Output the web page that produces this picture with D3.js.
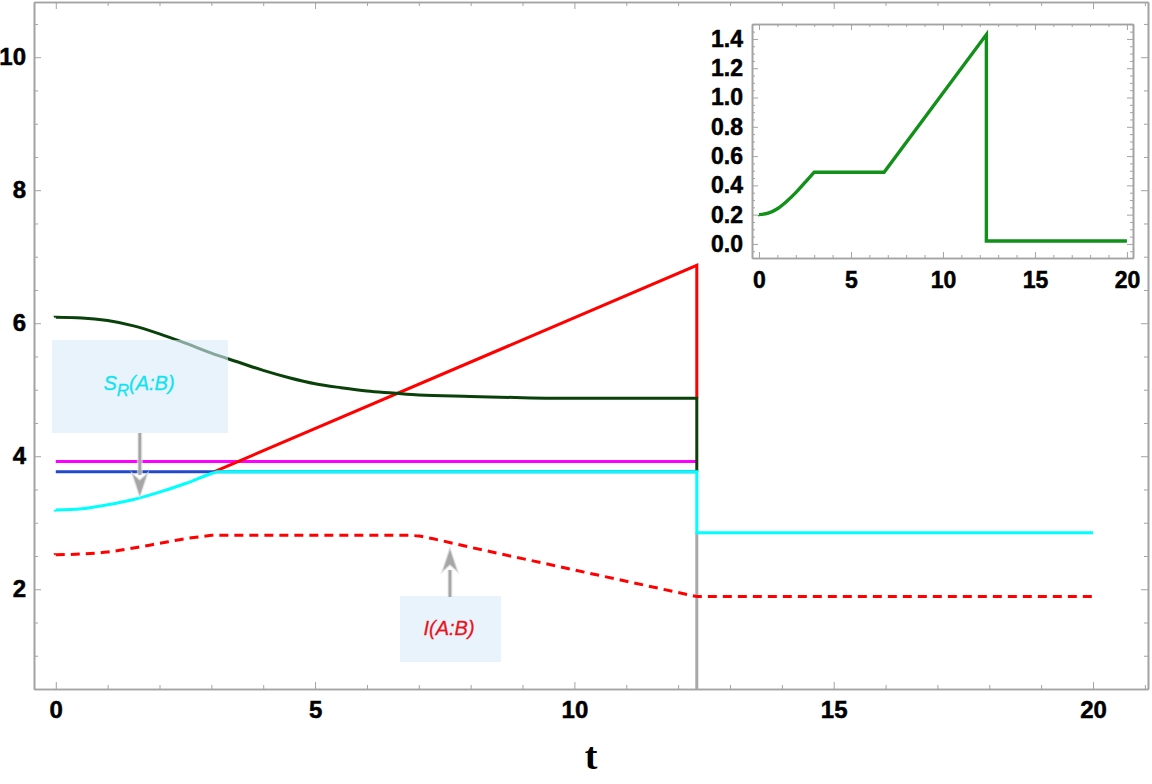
<!DOCTYPE html>
<html>
<head>
<meta charset="utf-8">
<script src="https://cdn.jsdelivr.net/npm/d3@7"></script>
<style>
  html, body { margin: 0; padding: 0; background: #fff; }
  svg { display: block; }
</style>
</head>
<body>
<svg id="chart" width="1152" height="784"></svg>
<script>
// ---------------- data ----------------
const xTicksMain = [0, 5, 10, 15, 20];
const yTicksMain = [2, 4, 6, 8, 10];
const xTicksInset = [0, 5, 10, 15, 20];
const yTicksInset = [0, 0.2, 0.4, 0.6, 0.8, 1.0, 1.2, 1.4];

// dark green curve
const greenT = [0, 0.5, 1, 1.5, 2, 2.5, 3, 3.5, 4, 4.5, 5, 5.5, 6, 6.5, 7, 8, 9, 10, 11, 12.36, 12.36];
const greenV = [6.09, 6.08, 6.04, 5.96, 5.84, 5.70, 5.55, 5.42, 5.29, 5.18, 5.09, 5.03, 4.98, 4.95, 4.92, 4.90, 4.88, 4.87, 4.87, 4.87, 3.77];

// magenta flat line
const magentaT = [0, 12.36];
const magentaV = [3.92, 3.92];

// blue flat line
const blueT = [0, 12.36];
const blueV = [3.765, 3.765];

// cyan S_R(A:B)
const cyanT = [0, 0.5, 1, 1.5, 2, 2.5, 3, 3.1, 12.36, 12.36, 20];
const cyanV = [3.19, 3.21, 3.27, 3.35, 3.46, 3.59, 3.74, 3.765, 3.765, 2.85, 2.85];

// red solid line
const redT = [3.05, 12.36, 12.36];
const redV = [3.765, 6.87, 4.87];

// red dashed I(A:B)
const dashT = [0, 0.5, 1, 1.5, 2, 2.5, 3, 6.8, 7.0, 7.2, 8, 9, 10, 11, 12.36, 20];
const dashV = [2.52, 2.53, 2.56, 2.62, 2.69, 2.76, 2.81, 2.81, 2.80, 2.77, 2.63, 2.46, 2.29, 2.12, 1.89, 1.89];

// gray vertical marker
const grayT = [12.36, 12.36];
const grayV = [0.5, 2.85];

// inset green curve
const insetT = [0, 0.5, 1, 1.5, 2, 2.5, 3, 6.8, 12.36, 12.36, 20];
const insetV = [0.20, 0.21, 0.24, 0.29, 0.35, 0.42, 0.49, 0.49, 1.43, 0.02, 0.02];

// annotations
const labelSR = { main: "S", sub: "R", rest: "(A:B)" };
const labelI = "I(A:B)";
const axisLabel = "t";

// ---------------- drawing ----------------
const svg = d3.select("#chart");
const frameColor = "#a3a3a3";
const labelFont = "'Liberation Sans', Arial, sans-serif";

const M = { left: 34, right: 1148, top: 2, bottom: 689 };
const x = d3.scaleLinear().domain([-0.42, 21.06]).range([M.left, M.right]);
const y = d3.scaleLinear().domain([0.5, 10.83]).range([M.bottom, M.top]);

function zip(ts, vs) { return ts.map((t, i) => [t, vs[i]]); }

// closely sampled runs (0 < dt <= 1) are smoothed; long or vertical segments stay straight
function smoothPath(pts, xs, ys) {
  const gen = d3.line().x(d => xs(d[0])).y(d => ys(d[1])).curve(d3.curveMonotoneX);
  let out = `M${xs(pts[0][0])},${ys(pts[0][1])}`;
  let run = [pts[0]];
  const flush = () => {
    if (run.length > 1) out += "L" + gen(run).slice(1);
  };
  for (let i = 1; i < pts.length; i++) {
    const dt = pts[i][0] - pts[i - 1][0];
    if (dt > 0 && dt <= 1.01) {
      run.push(pts[i]);
    } else {
      flush();
      out += `L${xs(pts[i][0])},${ys(pts[i][1])}`;
      run = [pts[i]];
    }
  }
  flush();
  return out;
}

function frameAxes(g, xs, ys, L, opt) {
  const xMinor = d3.range(Math.ceil(xs.domain()[0]), Math.floor(xs.domain()[1]) + 1, opt.xMinorStep)
    .filter(v => !opt.xTicks.some(t => Math.abs(t - v) < 1e-9));
  const yMinor = d3.range(Math.ceil(ys.domain()[0] / opt.yMinorStep) * opt.yMinorStep, ys.domain()[1], opt.yMinorStep)
    .filter(v => !opt.yTicks.some(t => Math.abs(t - v) < 1e-9));

  const mk = (axisFn, scale, vals, size, fmt, pad) =>
    axisFn(scale).tickValues(vals).tickSize(-size).tickSizeOuter(0).tickPadding(pad).tickFormat(fmt);
  const none = () => "";

  g.append("g").attr("transform", `translate(0,${L.bottom})`)
    .call(mk(d3.axisBottom, xs, opt.xTicks, opt.major, d3.format("d"), opt.xPad));
  g.append("g").attr("transform", `translate(0,${L.bottom})`)
    .call(mk(d3.axisBottom, xs, xMinor, opt.minor, none, 0));
  g.append("g").attr("transform", `translate(0,${L.top})`)
    .call(mk(d3.axisTop, xs, opt.xTicks, opt.major, none, 0));
  g.append("g").attr("transform", `translate(0,${L.top})`)
    .call(mk(d3.axisTop, xs, xMinor, opt.minor, none, 0));
  g.append("g").attr("transform", `translate(${L.left},0)`)
    .call(mk(d3.axisLeft, ys, opt.yTicks, opt.major, opt.yFmt, opt.yPad));
  g.append("g").attr("transform", `translate(${L.left},0)`)
    .call(mk(d3.axisLeft, ys, yMinor, opt.minor, none, 0));
  g.append("g").attr("transform", `translate(${L.right},0)`)
    .call(mk(d3.axisRight, ys, opt.yTicks, opt.major, none, 0));
  g.append("g").attr("transform", `translate(${L.right},0)`)
    .call(mk(d3.axisRight, ys, yMinor, opt.minor, none, 0));

  g.selectAll(".domain").attr("stroke", frameColor).attr("stroke-width", 1.6);
  g.selectAll(".tick line").attr("stroke", frameColor).attr("stroke-width", 1);
  g.selectAll(".tick text")
    .attr("font-family", labelFont).attr("font-weight", "bold")
    .attr("font-size", opt.fontSize).attr("fill", "#000")
    .attr("stroke", "#000").attr("stroke-width", 0.5);
}

// main frame
const gMain = svg.append("g");
frameAxes(gMain, x, y, M, {
  xTicks: xTicksMain, yTicks: yTicksMain, xMinorStep: 1, yMinorStep: 0.5,
  major: 7, minor: 4, xPad: 12, yPad: 8, fontSize: 24, yFmt: d3.format("d")
});

const series = [
  { t: grayT, v: grayV, color: "#a8a8a8", w: 3 },
  { t: magentaT, v: magentaV, color: "#ff00ff", w: 3 },
  { t: blueT, v: blueV, color: "#2349c9", w: 3 },
  { t: dashT, v: dashV, color: "#ff0000", w: 3, dash: "9,6" },
  { t: redT, v: redV, color: "#ff0000", w: 3 },
  { t: greenT, v: greenV, color: "#0a400a", w: 3 },
  { t: cyanT, v: cyanV, color: "#00ffff", w: 3 }
];
series.forEach(s => {
  gMain.append("path")
    .attr("d", smoothPath(zip(s.t, s.v), x, y)).attr("fill", "none")
    .attr("stroke", s.color).attr("stroke-width", s.w)
    .attr("stroke-linejoin", "miter")
    .attr("stroke-dasharray", s.dash || null);
});

// annotation arrows and boxes
function arrow(g, x1, y1, x2, y2) {
  const dir = Math.sign(y2 - y1);
  const headLen = 24, headW = 8;
  g.append("line").attr("x1", x1).attr("y1", y1).attr("x2", x2).attr("y2", y2 - dir * headLen + dir * 2)
    .attr("stroke", "#ececec").attr("stroke-width", 6).attr("opacity", 0.6);
  g.append("line").attr("x1", x1).attr("y1", y1).attr("x2", x2).attr("y2", y2 - dir * headLen + dir * 2)
    .attr("stroke", "#a6a6a6").attr("stroke-width", 3);
  g.append("path")
    .attr("d", `M${x2},${y2} L${x2 - headW},${y2 - dir * headLen} L${x2},${y2 - dir * (headLen - 7)} L${x2 + headW},${y2 - dir * headLen} Z`)
    .attr("fill", "#a6a6a6").attr("stroke", "#dcdcdc").attr("stroke-width", 1.5).attr("stroke-opacity", 0.7);
}

const ann = svg.append("g");
ann.append("rect").attr("x", 52).attr("y", 340).attr("width", 176).attr("height", 93)
  .attr("fill", "rgb(217,235,250)").attr("opacity", 0.6);
const t1 = ann.append("text").attr("x", 139).attr("y", 390)
  .attr("text-anchor", "middle").attr("font-family", labelFont)
  .attr("font-style", "italic").attr("font-size", 20).attr("fill", "#12e2f0")
  .attr("stroke", "#12e2f0").attr("stroke-width", 0.3);
t1.append("tspan").text(labelSR.main);
t1.append("tspan").attr("font-size", 17).attr("dy", 6).text(labelSR.sub);
t1.append("tspan").attr("dy", -6).text(labelSR.rest);
arrow(ann, x(1.62), 433, x(1.62), 497);

ann.append("rect").attr("x", 400).attr("y", 596).attr("width", 101).attr("height", 66)
  .attr("fill", "rgb(217,235,250)").attr("opacity", 0.6);
ann.append("text").attr("x", 449).attr("y", 635)
  .attr("text-anchor", "middle").attr("font-family", labelFont)
  .attr("font-style", "italic").attr("font-size", 20).attr("fill", "#e8141c")
  .attr("stroke", "#e8141c").attr("stroke-width", 0.3)
  .text(labelI);
arrow(ann, x(7.6), 597, x(7.6), 548);

// axis title
svg.append("text").attr("x", 591).attr("y", 769).attr("text-anchor", "middle")
  .attr("font-family", "'Liberation Serif', 'Times New Roman', serif")
  .attr("font-weight", "bold").attr("font-size", 38).attr("fill", "#000")
  .text(axisLabel);

// ---------------- inset ----------------
const IN = { left: 752, right: 1133, top: 24, bottom: 258 };
const xi = d3.scaleLinear().domain([-0.38, 20.33]).range([IN.left, IN.right]);
const yi = d3.scaleLinear().domain([-0.096, 1.502]).range([IN.bottom, IN.top]);

const gIn = svg.append("g");
gIn.append("rect").attr("x", IN.left).attr("y", IN.top)
  .attr("width", IN.right - IN.left).attr("height", IN.bottom - IN.top).attr("fill", "#fff");
frameAxes(gIn, xi, yi, IN, {
  xTicks: xTicksInset, yTicks: yTicksInset, xMinorStep: 1, yMinorStep: 0.05,
  major: 6, minor: 3, xPad: 14, yPad: 9, fontSize: 23, yFmt: d3.format(".1f")
});
gIn.append("path")
  .attr("d", smoothPath(zip(insetT, insetV), xi, yi)).attr("fill", "none")
  .attr("stroke", "#12901a").attr("stroke-width", 3.4);
</script>
</body>
</html>
